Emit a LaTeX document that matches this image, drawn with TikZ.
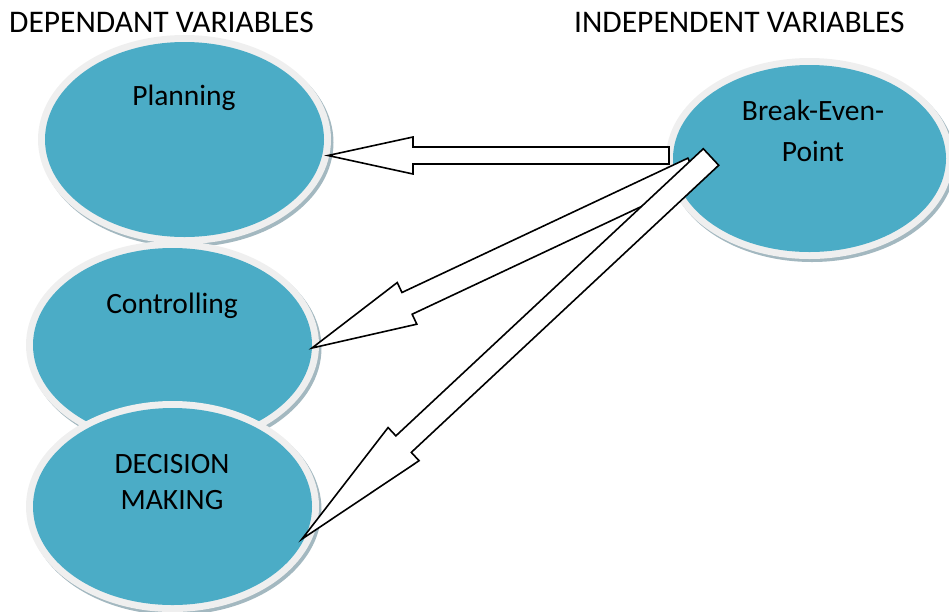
\documentclass[tikz,border=0pt]{standalone}
\usepackage{fontspec}
\setmainfont{Carlito}
\usetikzlibrary{shapes.geometric,calc}
\definecolor{teal5}{HTML}{4BACC6}
\definecolor{rimgray}{HTML}{EFEFEF}
\definecolor{shadowgray}{HTML}{A3B8C0}
\tikzset{
  lbl/.style={font=\fontsize{29.5}{34}\selectfont, inner sep=0pt, anchor=base},
  head/.style={font=\fontsize{31.5}{36}\selectfont, inner sep=0pt, anchor=base west},
  barrow/.style={draw=black, fill=white, line width=1.6pt, line join=miter},
}
% bubble: #1 name, #2 centre, #3 rx, #4 ry
\newcommand\bubble[4]{%
  \fill[shadowgray] ($(#2)+(2.5,3)$) ellipse [x radius=#3+7, y radius=#4+7];
  \fill[rimgray] (#2) ellipse [x radius=#3+7, y radius=#4+7];
  \node[ellipse, fill=teal5, inner sep=0pt, outer sep=0pt,
        minimum width=2*#3pt, minimum height=2*#4pt] (#1) at (#2) {};
}
% block arrow: #1 tail, #2 tip, #3 half shaft, #4 half head, #5 head length (pt)
\newcommand\blockarr[5]{%
  \coordinate (hb) at ($(#2)!#5pt!(#1)$);
  \draw[barrow] ($(#1)!#3pt!90:(#2)$) -- ($(hb)!#3pt!90:(#2)$) -- ($(hb)!#4pt!90:(#2)$)
    -- (#2) -- ($(hb)!#4pt!-90:(#2)$) -- ($(hb)!#3pt!-90:(#2)$) -- ($(#1)!#3pt!-90:(#2)$) -- cycle;
}
\begin{document}
\begin{tikzpicture}[x=1pt,y=-1pt]
\useasboundingbox (0,0) rectangle (949,611);
\bubble{plan}{184.5,139.5}{139.5}{97.5}
\bubble{ctrl}{172.5,345}{139.5}{97}
\bubble{dec}{172.5,506.5}{139.5}{98.5}
\bubble{bep}{809.5,158.5}{136.5}{93.5}

\node[head] (hdep) at (9,32) {DEPENDANT VARIABLES};
\node[head] (hind) at (574,32) {INDEPENDENT VARIABLES};

\node[lbl] (tplan) at (184,105) {Planning};
\node[lbl] (tctrl) at (172,313) {Controlling};
\node[lbl] (tdec1) at (172,473) {DECISION};
\node[lbl] (tdec2) at (172,509) {MAKING};
\node[lbl] (tbep1) at (813,120) {Break-Even-};
\node[lbl] (tbep2) at (813,161) {Point};

\coordinate (t1) at (669,155.5);
\coordinate (p1) at (328,155.5);
\coordinate (t2) at (693,169);
\coordinate (p2) at (312,348);
\coordinate (t3) at (711,157);
\coordinate (p3) at (302,539);

\blockarr{t1}{p1}{8.5}{18.5}{85}
\blockarr{t2}{p2}{12}{23}{105}
\blockarr{t3}{p3}{11.3}{22.7}{139}
\end{tikzpicture}
\end{document}
